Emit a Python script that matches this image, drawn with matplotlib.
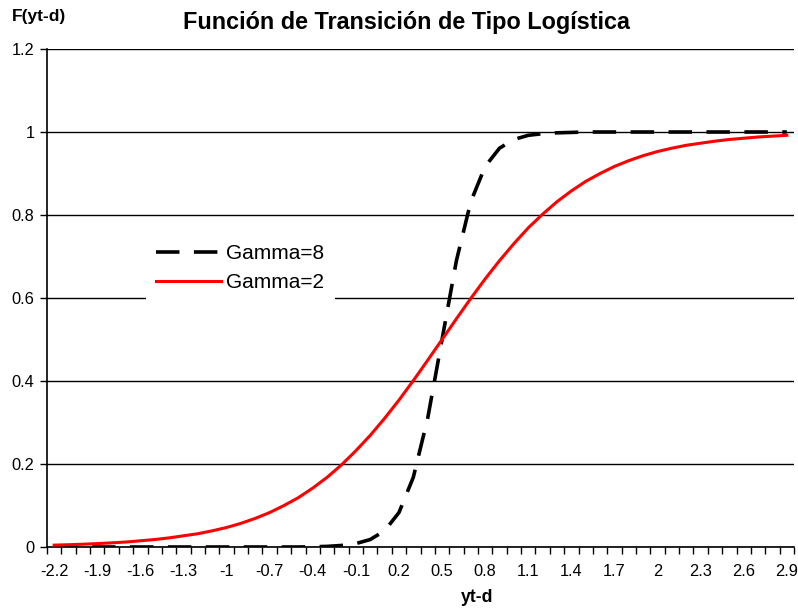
import matplotlib.pyplot as plt
import numpy as np

plt.rcParams['font.family'] = ['Liberation Sans', 'DejaVu Sans']

# category values of yt-d (-2.2 .. 2.9 step 0.1)
yt_d = [-2.2, -2.1, -2.0, -1.9, -1.8, -1.7, -1.6, -1.5, -1.4, -1.3,
        -1.2, -1.1, -1.0, -0.9, -0.8, -0.7, -0.6, -0.5, -0.4, -0.3,
        -0.2, -0.1, 0.0, 0.1, 0.2, 0.3, 0.4, 0.5, 0.6, 0.7,
        0.8, 0.9, 1.0, 1.1, 1.2, 1.3, 1.4, 1.5, 1.6, 1.7,
        1.8, 1.9, 2.0, 2.1, 2.2, 2.3, 2.4, 2.5, 2.6, 2.7,
        2.8, 2.9]

gamma8 = [0.0, 0.0, 0.0, 0.0, 0.0, 0.0, 0.0, 0.0, 0.0, 0.0,
          0.0, 0.0, 0.0, 0.0, 0.0, 0.0, 0.0, 0.0, 0.0005, 0.0015,
          0.0037, 0.0082, 0.018, 0.039, 0.083, 0.168, 0.310, 0.500, 0.690, 0.832,
          0.917, 0.961, 0.982, 0.992, 0.996, 0.998, 0.999, 1.0, 1.0, 1.0,
          1.0, 1.0, 1.0, 1.0, 1.0, 1.0, 1.0, 1.0, 1.0, 1.0,
          1.0, 1.0]

gamma2 = [0.0045, 0.0055, 0.0067, 0.0082, 0.010, 0.012, 0.015, 0.018, 0.022, 0.027,
          0.032, 0.039, 0.047, 0.057, 0.069, 0.083, 0.100, 0.119, 0.142, 0.168,
          0.198, 0.232, 0.269, 0.310, 0.354, 0.401, 0.450, 0.500, 0.550, 0.599,
          0.646, 0.690, 0.731, 0.769, 0.802, 0.832, 0.858, 0.881, 0.900, 0.917,
          0.931, 0.943, 0.953, 0.961, 0.968, 0.973, 0.978, 0.982, 0.985, 0.988,
          0.990, 0.992]

fig = plt.figure(figsize=(7.98, 6.09), dpi=100)
ax = fig.add_axes([47 / 798, 62 / 609, 747 / 798, 498 / 609])

x = np.arange(len(yt_d))
ax.plot(x, gamma8, color='black', lw=2.6, dashes=(6.5, 4), label='Gamma=8', zorder=3)
ax.plot(x, gamma2, color='#ff0000', lw=2.2, label='Gamma=2', zorder=3)

ax.set_xlim(-0.5, len(yt_d) - 0.5)
ax.set_ylim(0, 1.2)
ax.set_yticks([0, 0.2, 0.4, 0.6, 0.8, 1.0, 1.2])
ax.set_yticklabels(['0', '0.2', '0.4', '0.6', '0.8', '1', '1.2'])
ax.yaxis.grid(True, color='black', lw=1)
ax.set_axisbelow(True)

lbl_idx = list(range(0, len(yt_d), 3))
ax.set_xticks(lbl_idx)
ax.set_xticklabels(['%g' % yt_d[i] for i in lbl_idx])
ax.set_xticks(np.arange(-0.5, len(yt_d)), minor=True)
ax.tick_params(axis='x', which='major', length=0, pad=12, labelsize=11.8)
ax.tick_params(axis='x', which='minor', length=5, width=1, direction='out')
ax.tick_params(axis='y', length=5, width=1, direction='out', labelsize=11.8, pad=4)

for s in ['top', 'right']:
    ax.spines[s].set_visible(False)
ax.spines['left'].set_linewidth(1.2)
ax.spines['bottom'].set_linewidth(1.2)

leg = fig.legend(loc='center left', bbox_to_anchor=(146 / 798, 1 - 268 / 609),
                 frameon=True, fancybox=False, edgecolor='none', facecolor='white',
                 framealpha=1, fontsize=15, handlelength=3.1, handletextpad=0.25,
                 labelspacing=0.5, borderpad=0.5, borderaxespad=0)

fig.text(406 / 798, 1 - 22 / 609, 'Función de Transición de Tipo Logística',
         ha='center', va='center', fontsize=16.8, fontweight='bold')
fig.text(12 / 798, 1 - 16 / 609, 'F(yt-d)', ha='left', va='center',
         fontsize=12.5, fontweight='bold')
fig.text(477 / 798, 1 - 597 / 609, 'yt-d', ha='center', va='center',
         fontsize=12.7, fontweight='bold')

fig.savefig('out.png', dpi=100)
